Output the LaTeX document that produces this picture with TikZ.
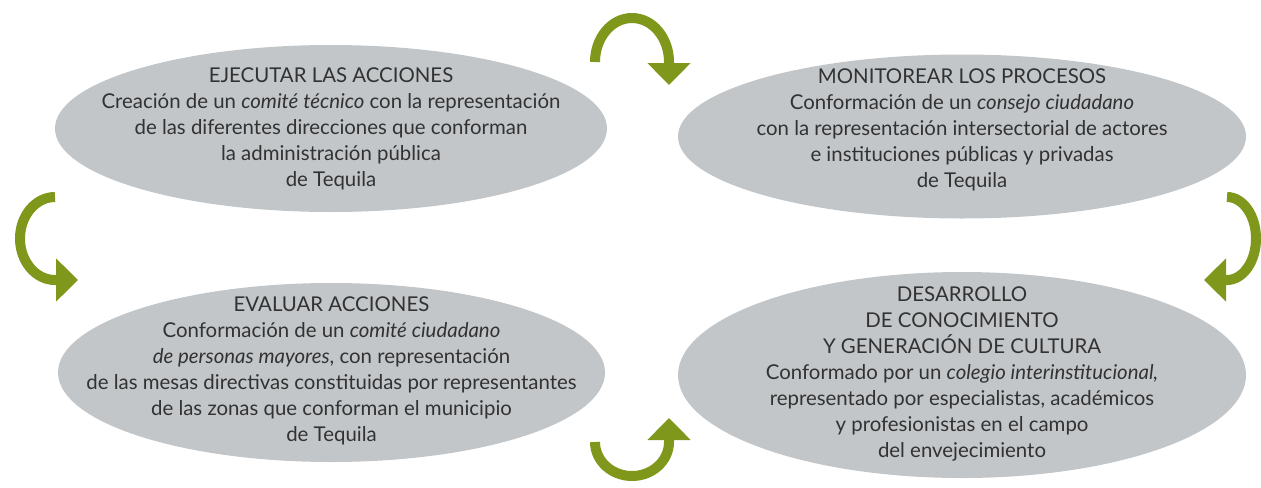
\documentclass[tikz,border=0pt]{standalone}
\usepackage{fontspec}
\setmainfont{Lato}
\usepackage{tikz}
\usetikzlibrary{shapes.geometric,arrows.meta,positioning}
\definecolor{olivo}{RGB}{127,152,28}
\definecolor{gris}{RGB}{194,198,201}
\definecolor{texto}{RGB}{50,50,50}

\begin{document}
\begin{tikzpicture}[x=0.5pt,y=0.5pt]
\tikzset{blob/.style={ellipse,fill=gris,inner sep=0pt},
txt/.style={align=center,text=texto,font=\fontsize{10.2}{13}\selectfont,inner sep=0pt},
curva/.style={draw=olivo,line width=5pt,-{Triangle[width=21pt,length=11pt]}}}
\useasboundingbox (0,0) rectangle (1261,-487);

\node[blob,minimum width=276pt,minimum height=83.5pt] (ejecutar) at (331,-128.5){};
\node[blob,minimum width=284pt,minimum height=82pt] (monitorear) at (962,-136.5){};
\node[blob,minimum width=273.5pt,minimum height=89.5pt] (evaluar) at (331.5,-372.5){};
\node[blob,minimum width=284pt,minimum height=103pt] (desarrollo) at (962,-375){};

\node[txt] (t1) at (331,-129){EJECUTAR LAS ACCIONES\\
Creación de un \textit{comité técnico} con la representación\\
de las diferentes direcciones que conforman\\
la administración pública\\
de Tequila};
\node[txt] (t2) at (962,-129.5){MONITOREAR LOS PROCESOS\\
Conformación de un \textit{consejo ciudadano}\\
con la representación intersectorial de actores\\
e instituciones públicas y privadas\\
de Tequila};
\node[txt] (t3) at (331.5,-371){EVALUAR ACCIONES\\
Conformación de un \textit{comité ciudadano}\\
\textit{de personas mayores}, con representación\\
de las mesas directivas constituidas por representantes\\
de las zonas que conforman el municipio\\
de Tequila};
\node[txt] (t4) at (962,-374){DESARROLLO\\
DE CONOCIMIENTO\\
Y GENERACIÓN DE CULTURA\\
Conformado por un \textit{colegio interinstitucional,}\\
representado por especialistas, académicos\\
y profesionistas en el campo\\
del envejecimiento};

\draw[curva] (595,-62) arc[start angle=180,end angle=0,x radius=37,y radius=44] -- (669,-85);
\draw[curva] (1227,-197) arc[start angle=90,end angle=-90,x radius=29,y radius=41.5] -- (1204,-280);
\draw[curva] (595,-442) arc[start angle=180,end angle=360,x radius=37,y radius=34] -- (669,-418);
\draw[curva] (55,-197) arc[start angle=90,end angle=270,x radius=35,y radius=41.5] -- (78,-280);

\end{tikzpicture}
\end{document}
